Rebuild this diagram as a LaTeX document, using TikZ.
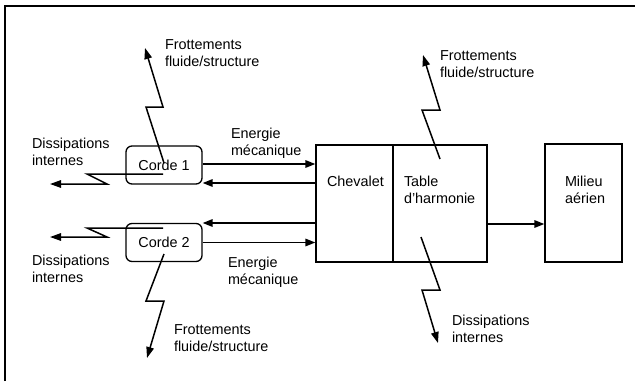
\documentclass[tikz,border=0pt]{standalone}
\usepackage{fontspec}
\setmainfont{Liberation Sans}
\usetikzlibrary{arrows.meta,calc}
\begin{document}
\begin{tikzpicture}[x=1pt,y=-1pt,
  lbl/.style={anchor=north west,align=left,inner sep=0pt,outer sep=0pt,font=\fontsize{14.4}{16.6}\selectfont},
  corde/.style={draw,line width=1.3pt,rounded corners=6pt,minimum width=76pt,minimum height=38pt,inner sep=0pt,font=\fontsize{14.4}{16.6}\selectfont},
  blk/.style={draw,line width=1.3pt,inner sep=0pt},
  arr/.style={line width=1.6pt,-{Triangle[length=10pt,width=7.5pt]}},
  zz/.style={line width=1.5pt,-{Triangle[length=11pt,width=7.5pt]}},
  frameline/.style={line width=2.5pt}
]
\useasboundingbox (0,0) rectangle (635,381);
\fill[white] (0,0) rectangle (635,381);
\draw[frameline] (5,381) -- (5,6) -- (635,6);

% boxes
\node[corde] (c1) at (164,165) {Corde 1};
\node[corde] (c2) at (164,242.5) {Corde 2};
\node[blk, minimum width=77pt, minimum height=117pt] (chev) at (354.5,203.5) {};
\node[blk, minimum width=94pt, minimum height=117pt] (table) at (440,203.5) {};
\node[blk, minimum width=77pt, minimum height=118pt] (mil) at (583.5,203) {};

% texts
\node[lbl] (tchev) at (327,176) {Chevalet};
\node[lbl] (ttab) at (404,176) {Table\\d\char"0027 harmonie};
\node[lbl] (tmil) at (565,176) {Milieu\\aérien};
\node[lbl] (f1) at (165,40) {Frottements\\fluide/structure};
\node[lbl] (d1) at (32,138) {Dissipations\\internes};
\node[lbl] (e1) at (231,128) {Energie\\mécanique};
\node[lbl] (d2) at (32,255) {Dissipations\\internes};
\node[lbl] (e2) at (228,257) {Energie\\mécanique};
\node[lbl] (f2) at (174,325) {Frottements\\fluide/structure};
\node[lbl] (f3) at (440,51) {Frottements\\fluide/structure};
\node[lbl] (d3) at (452,315) {Dissipations\\internes};

% energy arrows
\draw[arr] ([yshift=1pt]c1.east) -- ([yshift=1pt]c1.east -| chev.west);
\draw[arr] ([yshift=-18pt]c1.east -| chev.west) -- ([yshift=-18pt]c1.east);
\draw[arr] ([yshift=19.5pt]c2.east -| chev.west) -- ([yshift=19.5pt]c2.east);
\draw[arr] (c2.east) -- (c2.east -| chev.west);
\draw[arr] ([yshift=-20.5pt]table.east) -- ([yshift=-20.5pt]table.east -| mil.west);

% zigzag free ends
\coordinate (tf1) at (145,48);
\coordinate (td1) at (50,184);
\coordinate (td2) at (50,237);
\coordinate (tf2) at (147,358);
\coordinate (tf3) at (423,55);
\coordinate (td3) at (438,343);

% zigzags
\draw[zz] ($(c1)+(0,-2)$) -- (146,107) -- (163,107) -- (tf1);
\draw[zz] ($(c1)+(-1,9)$) -- (87,174) -- (107,184) -- (td1);
\draw[zz] ($(c2)+(-1,-14.5)$) -- (87,228) -- (107,237) -- (td2);
\draw[zz] ($(c2)+(0,11.5)$) -- (146,301) -- (164,301) -- (tf2);
\draw[zz] ($(table)+(0,-44.5)$) -- (422,110) -- (440,110) -- (tf3);
\draw[zz] ($(table)+(-19,33.5)$) -- (440,290) -- (422,290) -- (td3);
\end{tikzpicture}
\end{document}
